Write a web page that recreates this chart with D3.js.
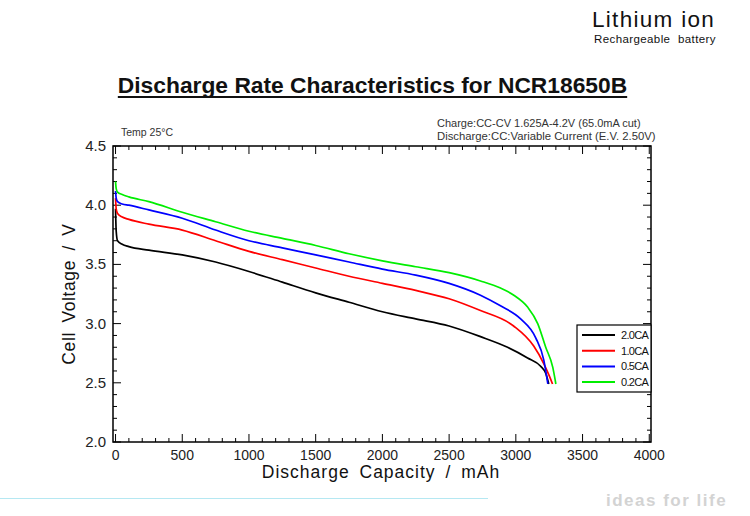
<!DOCTYPE html>
<html><head><meta charset="utf-8">
<script src="https://cdn.jsdelivr.net/npm/d3@7"></script>
<style>
body{margin:0;background:#fff;}
svg{display:block;font-family:"Liberation Sans",Arial,sans-serif;}
</style></head>
<body>
<svg id="c" width="750" height="516"></svg>
<script>
// ---- data ----
const seriesNames = ["2.0CA","1.0CA","0.5CA","0.2CA"];
const seriesColors = ["#000000","#ff0000","#0000ff","#00ee00"];
const cap20 = [0,5,15,50,100,250,500,750,1000,1250,1500,1750,2000,2250,2500,2735,2938,3088,3186,3224,3247];
const volt20 = [3.97,3.78,3.70,3.67,3.65,3.62,3.58,3.52,3.44,3.35,3.26,3.18,3.10,3.04,2.98,2.89,2.80,2.71,2.64,2.58,2.49];
const cap10 = [0,5,15,50,100,250,500,750,1000,1250,1500,1750,2000,2250,2500,2735,2983,3134,3210,3250,3275];
const volt10 = [4.06,3.97,3.93,3.90,3.88,3.84,3.79,3.70,3.61,3.54,3.47,3.40,3.34,3.28,3.21,3.11,2.98,2.81,2.66,2.56,2.49];
const cap05 = [0,5,15,50,100,250,500,750,1000,1250,1500,1750,2000,2250,2500,2735,2885,3036,3149,3210,3240];
const volt05 = [4.12,4.06,4.03,4.01,4.00,3.96,3.89,3.79,3.70,3.64,3.58,3.52,3.46,3.41,3.34,3.24,3.15,3.04,2.88,2.69,2.49];
const cap02 = [0,5,15,50,100,250,500,750,1000,1250,1500,1750,2000,2250,2500,2735,2885,2985,3088,3164,3224,3277,3300];
const volt02 = [4.20,4.14,4.11,4.09,4.07,4.03,3.94,3.86,3.78,3.72,3.66,3.59,3.53,3.48,3.43,3.36,3.30,3.24,3.14,3.00,2.80,2.63,2.49];
const xTickLabels = [0,500,1000,1500,2000,2500,3000,3500,4000];
const yTickLabels = ["2.0","2.5","3.0","3.5","4.0","4.5"];

const seriesCaps = [cap20,cap10,cap05,cap02];
const seriesVolts = [volt20,volt10,volt05,volt02];

const svg = d3.select("#c");
const L=113,R=651,T=146,B=442;
const x = d3.scaleLinear().domain([-19,4013]).range([L,R]);
const y = d3.scaleLinear().domain([2.0,4.5]).range([B,T]);

// header
svg.append("text").attr("x",592).attr("y",27).attr("font-family","'Liberation Sans',sans-serif")
  .attr("font-size",22.5).attr("letter-spacing",1.3).attr("fill","#111").text("Lithium ion");
svg.append("text").attr("x",594).attr("y",42.5).attr("font-family","'Liberation Sans',sans-serif")
  .attr("font-size",11.5).attr("letter-spacing",0.4).attr("word-spacing",4).attr("fill","#111").text("Rechargeable battery");

// title
const title = svg.append("text").attr("x",372.5).attr("y",93).attr("text-anchor","middle")
  .attr("font-size",22.8).attr("font-weight","bold").attr("fill","#111")
  .text("Discharge Rate Characteristics for NCR18650B");
const tb = title.node().getBBox();
svg.append("line").attr("x1",tb.x).attr("x2",tb.x+tb.width).attr("y1",97).attr("y2",97)
  .attr("stroke","#111").attr("stroke-width",2);

// notes
svg.append("text").attr("x",121).attr("y",136).attr("font-size",10.5).attr("fill","#333").text("Temp 25\u00B0C");
svg.append("text").attr("x",437).attr("y",127).attr("font-size",11).attr("fill","#333").text("Charge:CC-CV 1.625A-4.2V (65.0mA cut)");
svg.append("text").attr("x",437).attr("y",140).attr("font-size",11.3).attr("fill","#333").text("Discharge:CC:Variable Current (E.V. 2.50V)");

// ticks
const g = svg.append("g");
const minorX = d3.range(0,4001,100);
const minorY = d3.range(20,46,1).map(d=>d/10);
minorX.forEach(v=>{
  const len = v%500===0?8:4;
  g.append("line").attr("x1",x(v)).attr("x2",x(v)).attr("y1",B).attr("y2",B-len).attr("stroke","#000");
  g.append("line").attr("x1",x(v)).attr("x2",x(v)).attr("y1",T).attr("y2",T+len).attr("stroke","#000");
});
minorY.forEach(v=>{
  const len = Math.round(v*10)%5===0?8:4;
  g.append("line").attr("y1",y(v)).attr("y2",y(v)).attr("x1",L).attr("x2",L+len).attr("stroke","#000");
  g.append("line").attr("y1",y(v)).attr("y2",y(v)).attr("x1",R).attr("x2",R-len).attr("stroke","#000");
});
g.append("rect").attr("x",L).attr("y",T).attr("width",R-L).attr("height",B-T)
  .attr("fill","none").attr("stroke","#000").attr("stroke-width",1.5);

// tick labels
svg.selectAll(".xl").data(xTickLabels).enter().append("text")
  .attr("x",d=>x(d)).attr("y",460).attr("text-anchor","middle").attr("font-size",14).attr("fill","#222").text(d=>d);
svg.selectAll(".yl").data(yTickLabels).enter().append("text")
  .attr("x",106).attr("y",d=>y(+d)+5).attr("text-anchor","end").attr("font-size",15).attr("fill","#222").text(d=>d);

// axis titles
svg.append("text").attr("x",381).attr("y",478).attr("text-anchor","middle").attr("font-size",17.5)
  .attr("letter-spacing",1).attr("word-spacing",4).attr("fill","#111").text("Discharge Capacity / mAh");
svg.append("text").attr("transform","translate(75,294) rotate(-90)").attr("text-anchor","middle").attr("font-size",17.5)
  .attr("letter-spacing",0.6).attr("word-spacing",4).attr("fill","#111").text("Cell Voltage / V");

// curves
const line = d3.line().x(d=>x(d[0])).y(d=>y(d[1])).curve(d3.curveMonotoneX);
seriesNames.forEach((n,i)=>{
  const pts = seriesCaps[i].map((c,j)=>[c,seriesVolts[i][j]]);
  svg.append("path").attr("d",line(pts)).attr("fill","none").attr("stroke",seriesColors[i]).attr("stroke-width",1.7);
});

// legend
const lg = svg.append("g");
lg.append("rect").attr("x",577).attr("y",325).attr("width",R-577).attr("height",67).attr("fill","#fff").attr("stroke","#000").attr("stroke-width",1.2);
seriesNames.forEach((n,i)=>{
  const yy = 335+i*15.7;
  lg.append("line").attr("x1",582).attr("x2",615).attr("y1",yy).attr("y2",yy).attr("stroke",seriesColors[i]).attr("stroke-width",2);
  lg.append("text").attr("x",621).attr("y",yy+4).attr("font-size",11).attr("letter-spacing",-0.7).attr("fill","#111").text(n);
});

// footer
svg.append("line").attr("x1",0).attr("x2",488).attr("y1",498.5).attr("y2",498.5).attr("stroke","#b5e8f2").attr("stroke-width",1);
svg.append("text").attr("x",606).attr("y",506).attr("font-size",17).attr("font-weight","bold").attr("letter-spacing",1.5)
  .attr("fill","#d3d3d3").text("ideas for life");
</script>
</body></html>
